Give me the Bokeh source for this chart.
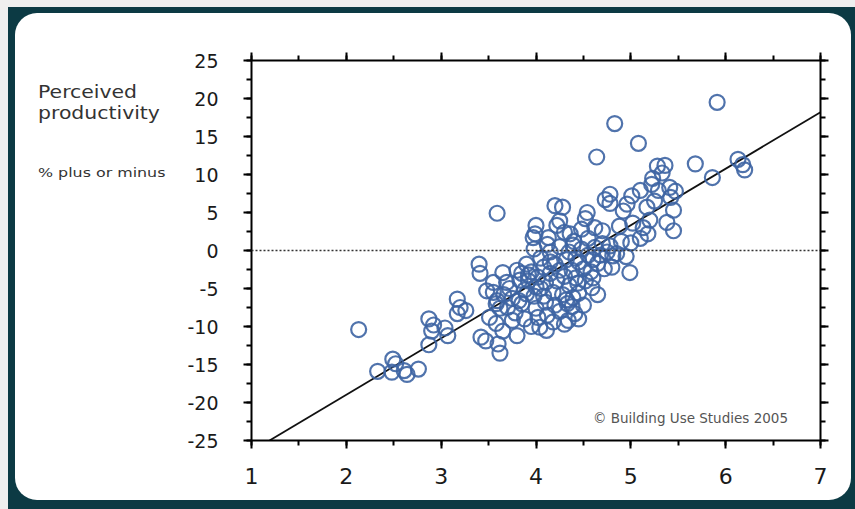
from bokeh.plotting import figure
from bokeh.models import (Range1d, LinearAxis, SingleIntervalTicker, Span,
                          Label, ColumnDataSource, CustomJSTickFormatter, Div, Spacer)
from bokeh.layouts import row, column
from bokeh.embed import file_html
from bokeh.resources import INLINE

# ---------------- data ----------------
x_ticks = [1, 2, 3, 4, 5, 6, 7]
y_ticks = [-25, -20, -15, -10, -5, 0, 5, 10, 15, 20, 25]

sparse_x = [2.13, 2.33, 2.49, 2.52, 2.48, 2.61, 2.64, 2.76, 2.87, 2.92, 2.90, 2.87,
            3.04, 3.07, 3.17, 3.26, 3.17, 3.40, 3.41, 3.55, 3.59, 3.42, 3.47, 3.60,
            3.62, 3.65, 3.80, 3.59, 3.51, 3.58, 3.48, 3.20]
sparse_y = [-10.4, -15.9, -14.3, -14.9, -16.0, -15.8, -16.3, -15.6, -9.0, -9.8, -10.6, -12.4,
            -10.2, -11.2, -6.4, -7.9, -8.3, -1.8, -3.0, -5.5, -6.6, -11.4, -11.9, -12.3,
            -13.5, -10.6, -11.2, 4.9, -8.8, -9.6, -5.3, -7.5]

upper_x = [4.83, 5.08, 4.64, 5.91, 5.68, 5.86, 6.13, 6.18, 6.20, 5.28, 5.36, 5.33,
           5.23, 5.22, 5.29, 5.41, 5.42, 5.47, 5.10, 5.01, 4.78, 4.73, 4.78, 4.96,
           4.92, 5.17, 5.20, 5.38, 5.45, 5.13, 5.18, 5.10, 5.45, 5.25, 4.54, 4.52,
           4.28, 4.25, 4.20, 4.00, 3.99, 4.22, 4.13, 4.36, 4.39, 4.99, 5.00, 4.80,
           4.81, 4.65, 4.60, 4.59, 4.44, 4.39, 4.33, 4.41, 4.34, 4.30, 4.04, 4.11,
           3.95, 3.90, 3.97]
upper_y = [16.7, 14.1, 12.3, 19.5, 11.4, 9.6, 12.0, 11.3, 10.6, 11.1, 11.2, 10.2,
           9.5, 8.7, 7.9, 8.3, 7.0, 7.8, 7.9, 7.2, 7.4, 6.7, 6.2, 6.1,
           5.2, 5.7, 4.0, 3.7, 2.6, 3.0, 2.2, 1.6, 5.3, 6.5, 5.0, 4.2,
           5.7, 3.9, 5.9, 3.3, 2.2, 3.3, 1.7, 2.2, 0.7, -2.9, 1.0, -2.2,
           -0.7, -1.7, -3.6, -4.9, -4.3, -6.2, -7.0, -8.3, -9.2, -9.7, -10.1, -10.5,
           -10.0, -5.7, 1.7]

dense_x = [3.65, 3.69, 3.80, 3.83, 3.72, 3.75, 3.70, 3.78, 3.85, 3.88, 3.92, 3.95,
           3.90, 3.98, 4.00, 4.02, 4.05, 4.05, 4.08, 4.10, 4.10, 4.12, 4.15, 4.15,
           4.18, 4.20, 4.20, 4.22, 4.25, 4.25, 4.28, 4.30, 4.32, 4.35, 4.35, 4.38,
           4.40, 4.42, 4.45, 4.45, 4.48, 4.50, 4.50, 4.52, 4.55, 4.55, 4.58, 4.62,
           4.65, 4.68, 4.70, 4.72, 4.75, 4.78, 4.85, 4.70, 4.62, 4.48, 4.30, 4.12,
           3.98, 4.02, 3.88, 3.92, 4.08, 4.25, 4.38, 4.18, 3.82, 3.62, 3.66, 4.60,
           4.42, 4.32, 4.15, 4.00, 3.85, 4.90, 4.88, 5.02, 4.95, 4.45, 3.75, 3.58,
           3.55]
dense_y = [-2.9, -4.2, -2.6, -3.9, -5.0, -6.3, -7.5, -8.2, -7.0, -5.2, -4.0, -2.8,
           -1.8, -6.0, -7.6, -3.5, -1.0, -5.0, -2.2, -6.8, -4.2, -8.5, -0.2, -3.0,
           -5.5, -1.8, -7.2, -4.0, -2.6, 0.5, -5.8, -3.4, -1.2, -4.6, -0.2, -2.6,
           1.2, -3.6, -1.5, -5.6, 0.2, -2.4, -7.2, -4.0, -0.6, 1.6, -2.8, 0.4,
           -5.8, -0.6, 0.9, -2.4, -0.2, 0.6, -0.4, 2.6, 3.0, 2.8, 2.4, 0.8,
           0.2, -8.8, -9.0, -3.2, -6.0, -8.0, -7.4, -9.4, -6.6, -7.6, -5.8, -1.2,
           -1.0, -6.5, -1.5, -4.8, -3.0, 1.2, 3.2, 3.6, -0.8, -9.0, -9.2, -7.0,
           -4.2]

fit_x = [1.19, 7.0]
fit_y = [-25.0, 18.2]

pts_x = sparse_x + upper_x + dense_x
pts_y = sparse_y + upper_y + dense_y

# ---------------- layout (page pixels) ----------------
W, H = 855, 509
PANEL_L, PANEL_R, PANEL_T, PANEL_B = 15, 851, 13, 500
GREY_T, GREY_L = 7, 8
FL, FR, FT, FB = 251, 820, 60, 440   # plotting frame on the page
BORDER_L = 80                        # figure's own left border (axis + labels)
X0, X1, Y0, Y1 = 1, 7, -25, 25

panel_w = PANEL_R - PANEL_L
panel_h = PANEL_B - PANEL_T
div_w = FL - PANEL_L - BORDER_L
fig_w = panel_w - div_w

p = figure(width=fig_w, height=panel_h, x_range=Range1d(X0, X1), y_range=Range1d(Y0, Y1),
           x_axis_type=None, y_axis_type=None, output_backend="svg",
           toolbar_location=None,
           min_border_left=BORDER_L, min_border_right=PANEL_R - FR,
           min_border_top=FT - PANEL_T, min_border_bottom=PANEL_B - FB)
p.xgrid.visible = False
p.ygrid.visible = False
p.outline_line_color = None
p.border_fill_color = None
p.background_fill_color = "white"

FONT = "DejaVu Sans"

def style(ax, labels, size="18px"):
    ax.axis_line_width = 2
    ax.axis_line_color = "black"
    ax.major_tick_out = 8
    ax.major_tick_in = 0
    ax.minor_tick_out = 5
    ax.minor_tick_in = 0
    ax.major_tick_line_width = 2
    ax.minor_tick_line_width = 2
    ax.major_label_text_font = FONT
    ax.formatter = CustomJSTickFormatter(code="return String(tick);")
    if labels:
        ax.major_label_text_color = "#1a1a1a"
        ax.major_label_text_font_size = size
    else:
        ax.major_label_text_color = None
        ax.major_label_text_font_size = "1px"

xt = lambda: SingleIntervalTicker(interval=1, num_minor_ticks=2)
yt = lambda: SingleIntervalTicker(interval=5, num_minor_ticks=2)

bottom = LinearAxis(ticker=xt())
style(bottom, True, "22px")
bottom.major_label_standoff = 19
p.add_layout(bottom, "below")

top = LinearAxis(ticker=xt())
style(top, False)
p.add_layout(top, "above")

left = LinearAxis(ticker=yt())
style(left, True, "19px")
left.major_label_standoff = 25
p.add_layout(left, "left")

right = LinearAxis(ticker=yt())
style(right, False)
p.add_layout(right, "right")

# zero line
p.add_layout(Span(location=0, dimension="width", line_color="#333333",
                  line_width=1.6, line_dash="2 2"))

# fit line
p.line(fit_x, fit_y, line_color="#111111", line_width=1.8)

# points
src = ColumnDataSource(dict(x=pts_x, y=pts_y))
p.scatter("x", "y", source=src, marker="circle", size=15, fill_color=None,
          line_color="#3d64a3", line_width=2.2, line_alpha=0.9)

# copyright (inside the frame)
p.add_layout(Label(x=4.6, y=-22, text="© Building Use Studies 2005",
                   text_font=FONT, text_font_size="13.5px", text_color="#555555",
                   text_baseline="middle", text_align="left"))

# left-hand y title block
ty1 = 92 - PANEL_T - 10.5
ty2 = 173 - PANEL_T - 9
left_html = (
    f'<div style="position:relative;width:{div_w}px;height:{panel_h}px;'
    f'font-family:\'DejaVu Sans\';color:#333333;">'
    f'<div style="position:absolute;left:{38 - PANEL_L}px;top:{ty1}px;font-size:17px;'
    f'line-height:21px;transform:scaleX(1.2);transform-origin:0 0;white-space:nowrap;">'
    f'Perceived<br>productivity</div>'
    f'<div style="position:absolute;left:{38 - PANEL_L}px;top:{ty2}px;font-size:13px;'
    f'line-height:18px;transform:scaleX(1.22);transform-origin:0 0;white-space:nowrap;">'
    f'% plus or minus</div></div>'
)
title_div = Div(text=left_html, width=div_w, height=panel_h, margin=0)

panel = row(title_div, p, spacing=0,
            styles={"background-color": "white", "border-radius": "22px"})

dark = column(
    Spacer(width=W - GREY_L, height=PANEL_T - GREY_T, margin=0),
    row(Spacer(width=PANEL_L - GREY_L, height=panel_h, margin=0), panel,
        Spacer(width=W - PANEL_R, height=panel_h, margin=0), spacing=0),
    Spacer(width=W - GREY_L, height=H - PANEL_B, margin=0),
    spacing=0, styles={"background-color": "#0c3a44"})

root = column(
    Spacer(width=W, height=GREY_T, margin=0, styles={"background-color": "#efefef"}),
    row(Spacer(width=GREY_L, height=H - GREY_T, margin=0,
               styles={"background-color": "#efefef"}),
        dark, spacing=0),
    spacing=0)

open("out.html", "w").write(file_html(root, INLINE))
